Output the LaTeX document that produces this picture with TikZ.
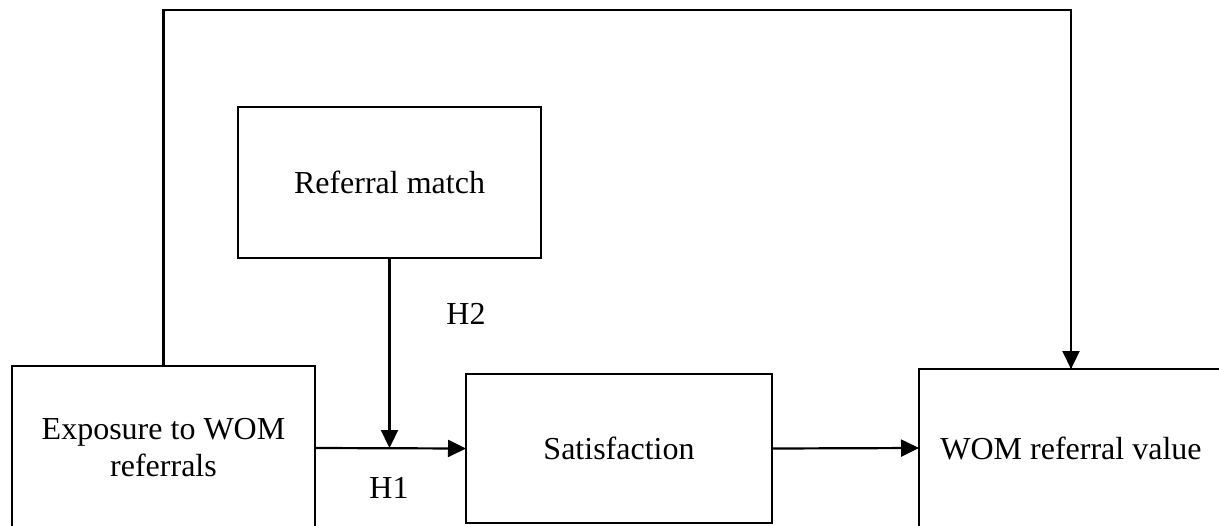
\documentclass[tikz,border=0pt]{standalone}
\usepackage{fontspec}
\setmainfont{Liberation Serif}
\usetikzlibrary{arrows.meta}
\begin{document}
\begin{tikzpicture}[x=0.5pt,y=-0.5pt,
  box/.style={draw,line width=1.1pt,inner sep=0pt,outer sep=0pt,align=center,
    font=\fontsize{16}{18.5}\selectfont},
  conn/.style={line width=1.1pt},
  arr/.style={conn,-{Triangle[length=9pt,width=8.5pt]}},
  lbl/.style={font=\fontsize{16}{18.5}\selectfont,inner sep=0pt}]
\clip (0,0) rectangle (1219,525);
\node[box,minimum width=151.5pt,minimum height=82pt] (exp) at (163.5,448) {Exposure to WOM\\referrals};
\node[box,minimum width=153pt,minimum height=74.5pt] (sat) at (619,448.5) {Satisfaction};
\node[box,minimum width=152pt,minimum height=79pt] (wom) at (1071,448) {WOM referral value};
\node[box,minimum width=151.5pt,minimum height=75.5pt] (ref) at (389.5,182.5) {Referral match};
\coordinate (tl) at (163.5,10);
\coordinate (tr) at (1071,10);
\coordinate (mid) at (389.5,448);
\draw[arr] (exp.east) -- (sat.west);
\draw[arr] (sat.east) -- (wom.west);
\draw[arr] (ref.south) -- (mid);
\draw[conn,line join=miter] (exp.north) -- (tl) -- (tr) -- (wom.north);
\draw[arr] (tr) -- (wom.north);
\node[lbl] (h2) at (466,314) {H2};
\node[lbl] (h1) at (389,488) {H1};
\end{tikzpicture}
\end{document}
